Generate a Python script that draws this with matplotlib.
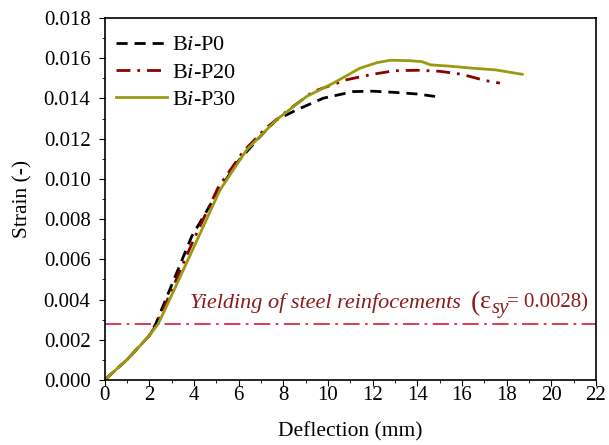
import matplotlib
matplotlib.use("Agg")
import matplotlib.pyplot as plt
from matplotlib.ticker import MultipleLocator, FormatStrFormatter

plt.rcParams["font.family"] = "Liberation Serif"
plt.rcParams["mathtext.fontset"] = "custom"
plt.rcParams["mathtext.rm"] = "Liberation Serif"
plt.rcParams["mathtext.it"] = "Liberation Serif:italic"

# data
x_p0 = [0, 1, 2, 2.3, 2.74, 3.48, 3.9, 4.87, 5.91, 6.96, 7.7, 8.6, 9.79, 11.13, 12.0, 13.0, 14.0, 14.8]
y_p0 = [0, 0.001, 0.0022, 0.0028, 0.004, 0.006, 0.00713, 0.00896, 0.01078, 0.0121, 0.01294, 0.01343, 0.01401, 0.01434, 0.01436, 0.0143, 0.01422, 0.0141]

x_p20 = [0, 1, 2, 2.35, 2.9, 4.0, 5.1, 6.2, 7.2, 8.2, 9.34, 10.84, 12, 13, 14, 15, 16, 17, 17.7]
y_p20 = [0, 0.001, 0.0022, 0.0028, 0.0042, 0.0070, 0.0096, 0.01135, 0.0125, 0.0134, 0.01434, 0.01493, 0.0152, 0.01538, 0.0154, 0.01535, 0.0152, 0.0149, 0.01476]

x_p30 = [0, 1, 2, 2.41, 3.0, 4.12, 5.17, 6.36, 7.7, 9.05, 10.24, 11.43, 12.2, 12.8, 13.6, 14.2, 14.6, 15.5, 16.5, 17.5, 18.7]
y_p30 = [0, 0.001, 0.0022, 0.0028, 0.0042, 0.0069, 0.00945, 0.01144, 0.01294, 0.0141, 0.01476, 0.0155, 0.01578, 0.0159, 0.01588, 0.01583, 0.01567, 0.0156, 0.0155, 0.01542, 0.0152]

eps_sy = 0.0028

fig = plt.figure(figsize=(6.09, 4.45), dpi=100)
ax = fig.add_axes([0.1716, 0.146, 0.807, 0.8136])

ax.axhline(eps_sy, color="#d92b48", linestyle=(0, (9, 3, 1.5, 3)), linewidth=1.3)
ax.plot(x_p0, y_p0, color="black", linestyle=(0, (4, 2.5)), linewidth=2.0, label="B$\\mathit{i}$-P0")
ax.plot(x_p20, y_p20, color="#8b0000", linestyle=(0, (5, 2.5, 1, 2.5)), linewidth=2.0, label="B$\\mathit{i}$-P20")
ax.plot(x_p30, y_p30, color="#9a9a10", linestyle="-", linewidth=2.0, label="B$\\mathit{i}$-P30")

# annotation of the yield strain
txt_col = "#8b1a1a"
ax.text(3.82, 0.0036, "Yielding of steel reinfocements", color=txt_col, fontsize=16, style="italic")
ax.text(16.4, 0.0035, "(", color=txt_col, fontsize=20)
ax.text(16.8, 0.0036, "\u03b5", color=txt_col, fontsize=19)
ax.text(17.33, 0.00333, "sy", color=txt_col, fontsize=15, style="italic")
ax.text(18.0, 0.0036, "= 0.0028)", color=txt_col, fontsize=15)

ax.set_xlim(0, 22)
ax.set_ylim(0, 0.018)
ax.xaxis.set_major_locator(MultipleLocator(2))
ax.xaxis.set_minor_locator(MultipleLocator(1))
ax.yaxis.set_major_locator(MultipleLocator(0.002))
ax.yaxis.set_minor_locator(MultipleLocator(0.001))
ax.yaxis.set_major_formatter(FormatStrFormatter("%.3f"))
ax.tick_params(which="major", direction="out", length=4.5, labelsize=15, top=False, right=False)
ax.tick_params(axis="y", which="major", pad=5.5)
ax.tick_params(axis="x", which="major", pad=0)
ax.tick_params(which="minor", direction="out", length=2.5, top=False, right=False)
for s in ax.spines.values():
    s.set_linewidth(1.2)

ax.set_xlabel("Deflection (mm)", fontsize=15.5, labelpad=12)
ax.set_ylabel("Strain (-)", fontsize=15.5, labelpad=8)

ax.legend(loc="upper left", frameon=False, fontsize=16, handlelength=2.3,
          handletextpad=0.2, borderaxespad=0, borderpad=0.3, labelspacing=0.31,
          bbox_to_anchor=(0.01, 0.972))

fig.savefig("out.png", dpi=100)
